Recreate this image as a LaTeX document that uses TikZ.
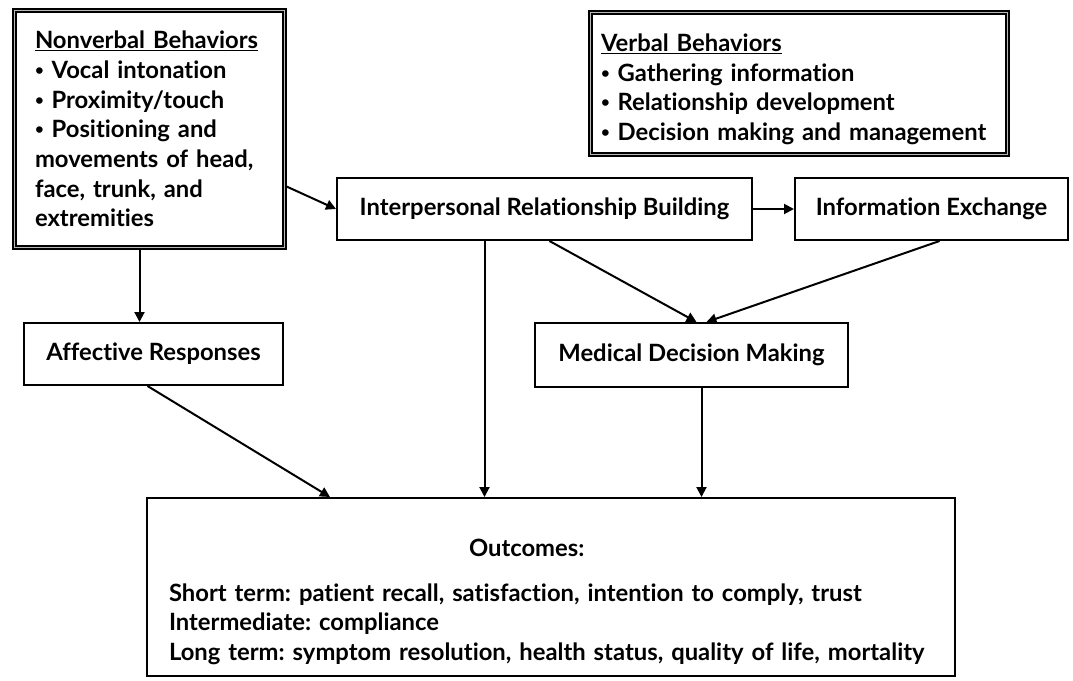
\documentclass[tikz,border=0pt]{standalone}
\usepackage{fontspec}
\setmainfont{Lato}[Ligatures=NoCommon]
\usepackage{tikz}
\usetikzlibrary{arrows.meta}
\usetikzlibrary{calc}
\usetikzlibrary{positioning}
\frenchspacing
\newcommand{\bul}{\raisebox{3pt}{\fontsize{15pt}{0pt}\selectfont\textbullet}\ }

\begin{document}
\begin{tikzpicture}[
		x=1pt,
		y=-1pt,
		font=\fontsize{23.8pt}{29.7pt}\selectfont\bfseries,
		>={Triangle[length=10,width=10]},
	]
		\tikzset{box/.style={
			draw,
			rectangle,
			line width=2,
			inner sep=0,
			minimum height=62,
		}}
		\tikzset{dbox/.style={
			draw,
			rectangle,
			line width=1.9,
			double=gray!55,
			double distance=1.6,
			inner sep=0,
		}}
		\tikzset{link/.style={
			->,
			line width=2,
		}}

		\useasboundingbox (0,0) rectangle (1073,680);

		\node[
			dbox,
			minimum width=270,
			minimum height=237,
			text width=229,
			align=left,
		] (nonverbal) at (149.5,129) {\underline{Nonverbal Behaviors}\\
			\bul Vocal intonation\\
			\bul Proximity/touch\\
			\bul Positioning and\\
			movements of head,\\
			face, trunk, and\\
			extremities};

		\node[
			dbox,
			minimum width=417,
			minimum height=142,
			text width=396,
			align=left,
		] (verbal) at (799,83.5) {\rule{0pt}{29pt}\underline{Verbal Behaviors}\\
			\bul Gathering information\\
			\bul Relationship development\\
			\bul Decision making and management};

		\node[box, minimum width=415] (IRB) at (544.5,209) {Interpersonal Relationship Building};
		\node[box, minimum width=273] (IE) at (931.5,209) {Information Exchange};
		\node[box, minimum width=259] (affective) at (153.5,354) {Affective Responses};
		\node[box, minimum width=313, minimum height=64] (MDM) at (691.5,355) {Medical Decision Making};

		\node[
			box,
			minimum width=808,
			minimum height=178,
			text width=764,
			align=left,
		] (outcomes) at (551,587) {\rule{0pt}{47pt}\hspace*{300pt}Outcomes:\\[15pt]
			Short term: patient recall, satisfaction, intention to comply, trust\\
			Intermediate: compliance\\
			Long term: symptom resolution, health status, quality of life, mortality};

		\coordinate (nvout) at ($(nonverbal.south)+(-10,0)$);
		\coordinate (irbout) at ($(IRB.south)+(-60,0)$);
		\coordinate (mdmout) at ($(MDM.south)+(10,0)$);

		\draw[link] ($(nonverbal.east)+(0,57)$) -- (IRB.west);
		\draw[link] (IRB) -- (IE);
		\draw[link] (nvout) -- (nvout |- affective.north);
		\draw[link] (irbout) -- (irbout |- outcomes.north);
		\draw[link] ($(IRB.south)+(5,0)$) -- ($(MDM.north)+(5,0)$);
		\draw[link] ($(IE.south)+(8,0)$) -- ($(MDM.north)+(15,0)$);
		\draw[link] ($(affective.south)+(-6,0)$) -- ($(outcomes.north)+(-221,0)$);
		\draw[link] (mdmout) -- (mdmout |- outcomes.north);
	\end{tikzpicture}
\end{document}
